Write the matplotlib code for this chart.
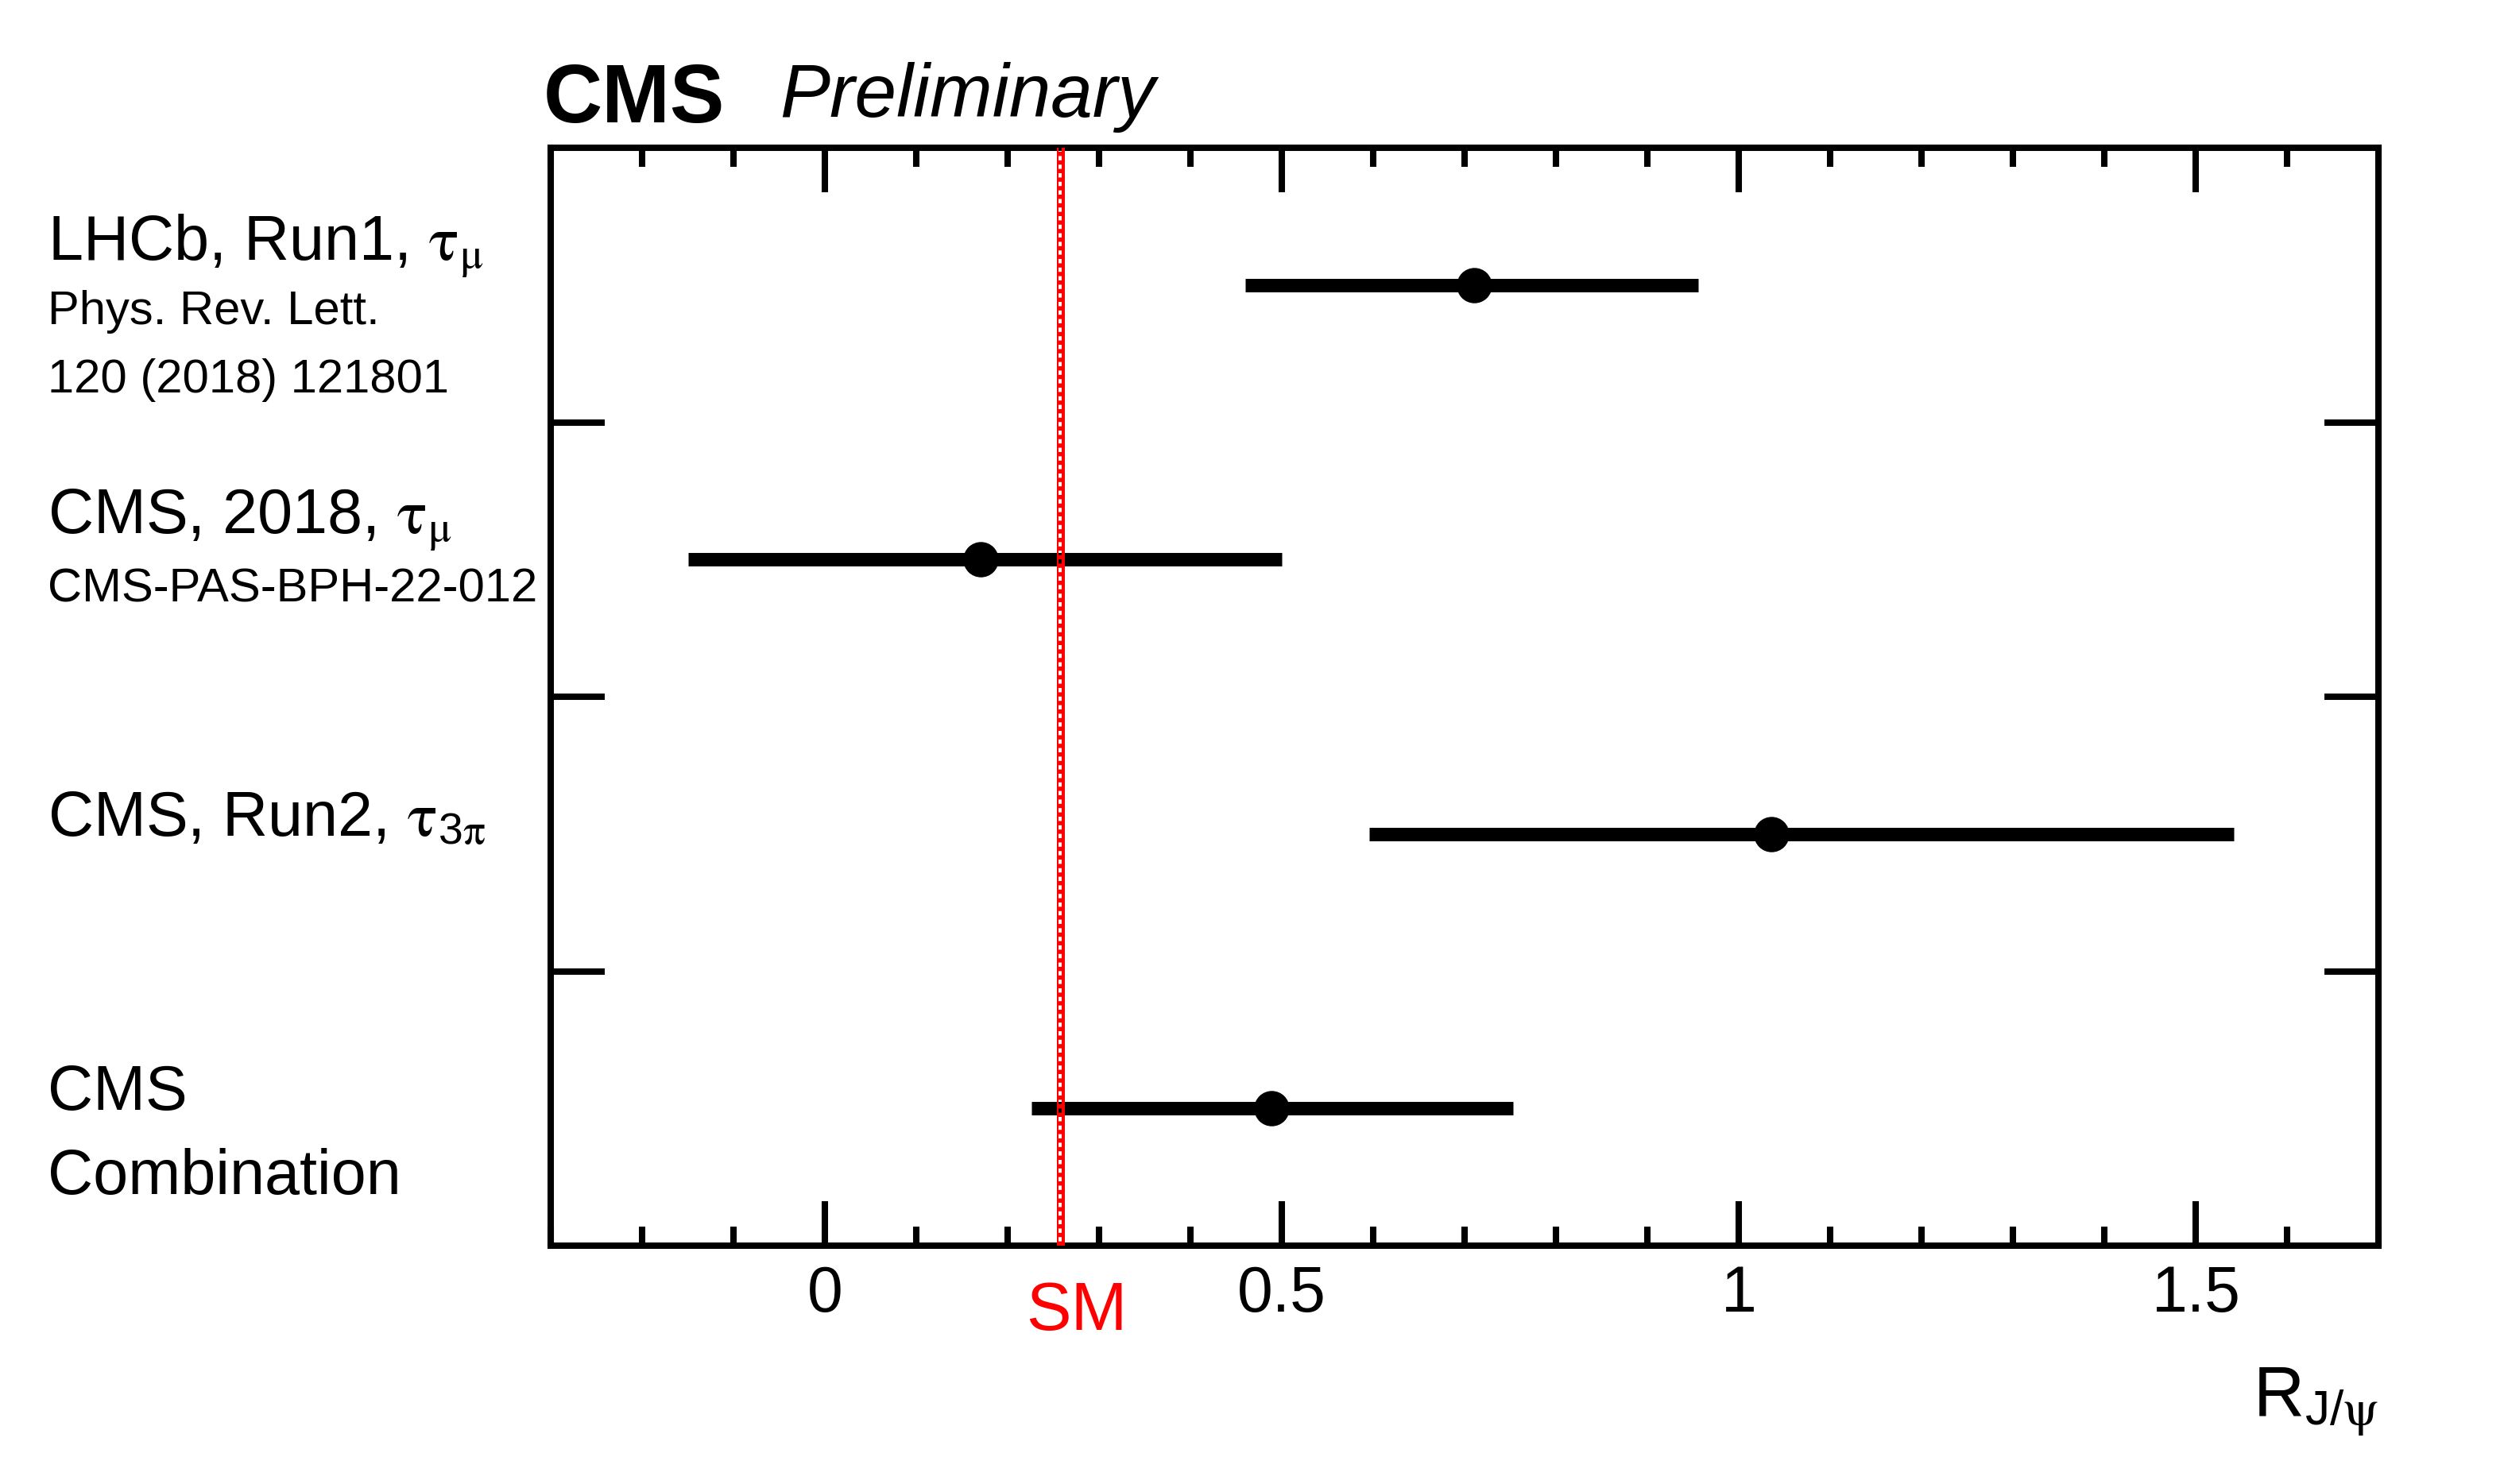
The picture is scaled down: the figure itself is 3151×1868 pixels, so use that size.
import matplotlib
matplotlib.use("Agg")
import matplotlib.pyplot as plt
from matplotlib.ticker import MultipleLocator, FixedLocator, NullFormatter
import matplotlib.transforms as mtransforms

plt.rcParams['font.family'] = ['Liberation Sans', 'DejaVu Sans']
plt.rcParams['mathtext.fontset'] = 'stix'

# measurements of R(J/psi), top to bottom
centers = [0.71, 0.17, 1.035, 0.488]
err_lo = [0.25, 0.32, 0.44, 0.262]
err_hi = [0.245, 0.33, 0.506, 0.265]
sm_value = 0.258

# labels shown left of each row: (text, big/small)
row_labels = [
    [(r'LHCb, Run1, $\mathrm{\tau}_{\mathrm{\mu}}$', 'big'), ('Phys. Rev. Lett.', 'small'), ('120 (2018) 121801', 'small')],
    [(r'CMS, 2018, $\mathrm{\tau}_{\mathrm{\mu}}$', 'big'), ('CMS-PAS-BPH-22-012', 'small')],
    [(r'CMS, Run2, $\mathrm{\tau}_{\mathregular{3}\mathrm{\pi}}$', 'big')],
    [('CMS', 'big'), ('Combination', 'big')],
]
xticks_major = [0, 0.5, 1, 1.5]
xtick_labels = ['0', '0.5', '1', '1.5']

# baseline offsets of each label line from the row centre, in pixels (down = positive)
label_offsets = [[-31, 49, 135], [-33, 53], [3], [2, 108]]

fig = plt.figure(figsize=(31.51, 18.68), dpi=100)
ax = fig.add_axes([0.220, 0.1606, 0.730, 0.7398])

ypos = [i + 0.5 for i in range(len(centers))]

ax.errorbar(centers, ypos, xerr=[err_lo, err_hi], fmt='o', color='black',
            markersize=31, elinewidth=12.2, capsize=0, zorder=3)

# SM line: red with a dotted pattern
px = 72.0 / fig.dpi


def sm_line(dx, lw, **kw):
    tr = mtransforms.blended_transform_factory(
        mtransforms.offset_copy(ax.transData, fig, x=dx, y=0, units='dots'), ax.transAxes)
    ax.plot([sm_value, sm_value], [0, 1], color='red', lw=lw * px, transform=tr,
            zorder=4, solid_capstyle='butt', **kw)


sm_line(3, 4)
sm_line(-2, 6, linestyle=(0, (0.9, 0.9)))
sm_line(-4, 2)

ax.set_xlim(-0.3, 1.7)
ax.set_ylim(len(centers), 0)

ax.xaxis.set_major_locator(FixedLocator(xticks_major))
ax.set_xticklabels(xtick_labels)
ax.xaxis.set_minor_locator(MultipleLocator(0.1))
ax.yaxis.set_major_locator(FixedLocator([1, 2, 3]))
ax.yaxis.set_major_formatter(NullFormatter())

ax.tick_params(axis='x', which='major', direction='in', length=40, width=5.8,
               top=True, bottom=True, labelsize=58, pad=17)
ax.tick_params(axis='x', which='minor', direction='in', length=17, width=5.8,
               top=True, bottom=True)
ax.tick_params(axis='y', which='major', direction='in', length=49, width=5.8,
               left=True, right=True)
for sp in ax.spines.values():
    sp.set_linewidth(5.8)

# row labels
for y, lines, offs in zip(ypos, row_labels, label_offsets):
    for (txt, kind), off in zip(lines, offs):
        size = 57 if kind == 'big' else 43
        ax.annotate(txt, xy=(0.019, y), xycoords=('figure fraction', 'data'),
                    xytext=(0, -off * px), textcoords='offset points',
                    ha='left', va='baseline', fontsize=size, annotation_clip=False)

# SM label, sits a little right of the line
ax.annotate('SM', xy=(sm_value, -0.0767),
            xycoords=mtransforms.blended_transform_factory(ax.transData, ax.transAxes),
            xytext=(20 * px, 0), textcoords='offset points',
            color='red', fontsize=61, ha='center', va='baseline', annotation_clip=False)

# axis title
ax.text(1.0, -0.1556, r'R$_{\mathregular{J/}\mathrm{\psi}}$', fontsize=64, ha='right', va='baseline',
        transform=ax.transAxes)

# CMS Preliminary
ax.text(-0.004, 1.023, 'CMS', fontsize=74, fontweight='bold', ha='left', va='baseline',
        transform=ax.transAxes)
ax.text(0.125, 1.028, 'Preliminary', fontsize=68, fontstyle='italic', ha='left', va='baseline',
        transform=ax.transAxes)

fig.savefig('out.png', dpi=100)
